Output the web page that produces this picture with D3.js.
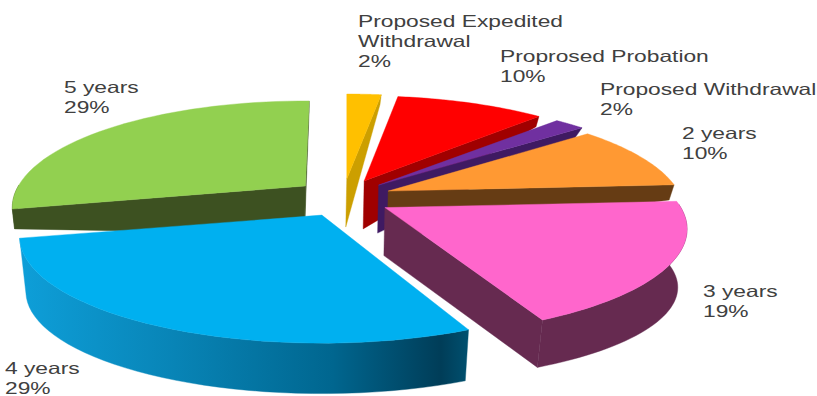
<!DOCTYPE html>
<html>
<head>
<meta charset="utf-8">
<script src="https://cdnjs.cloudflare.com/ajax/libs/d3/7.8.5/d3.min.js"></script>
<style>
  html, body { margin: 0; padding: 0; background: #fff; }
  svg { display: block; }
  text { font-family: "Liberation Sans", Arial, sans-serif; font-size: 16.5px; fill: #404040; }
</style>
</head>
<body>
<svg id="chart" width="817" height="396"></svg>
<script>
// Sanction outcomes, in drawing order clockwise from twelve o'clock
const categories = ["Proposed Expedited Withdrawal", "Proprosed Probation", "Proposed Withdrawal",
                    "2 years", "3 years", "4 years", "5 years"];
const shares = [2, 10, 2, 10, 19, 29, 29];

const topColors  = ["#ffc000", "#ff0000", "#7030a0", "#ff9933", "#ff66cc", "#00b0f0", "#92d050"];
const sideColors = ["#cc9f00", "#a00000", "#3f1a62", "#663c14", "#662a50", "url(#blueSide)", "#3d5121"];

// Label layout: wrapped lines and the anchor of the first line
const labelLines = [["Proposed Expedited", "Withdrawal"], ["Proprosed Probation"], ["Proposed Withdrawal"],
                    ["2 years"], ["3 years"], ["4 years"], ["5 years"]];
const labelAnchors = [[358, 27], [500, 62], [600, 95], [682, 139], [703, 297], [5, 374], [64, 93]];

// Painter's order, back slices first
const paintOrder = [0, 1, 2, 3, 4, 6, 5];

// Perspective model of the pie disc, relative to each slice's apex
const rotation = 0.9 * Math.PI / 180;
const centre = { x: 343, y: 198 }, explode = { x: 48.5, y: 19 };
const topPlane = { ax: 296, by: 102.2, p: 0.2019 };
const backBase = { ax: 285, by: 117, p: 0.283, dy: 16 };
const pinkBase = { ax: 287, by: 90, p: 0.2, dy: 61 };
const blueBase = { ax: 290, by: 98, p: 0.2, dy: 56 };
const basePlanes = [backBase, backBase, backBase, backBase, pinkBase, blueBase, backBase];
const rimWidth = [1, 0.98, 1, 0.98, 1, 1, 0.97];
const leadingGap = [-0.9, 0, 0, 0, 0, 2, 0].map(deg => deg * Math.PI / 180);
const apexDrop = { x: -1, y: 48 };

const rimTop = (a, k) => {
  const X = Math.sin(a), Y = -Math.cos(a), w = 1 - topPlane.p * Y;
  return [k * topPlane.ax * X / w, topPlane.by * Y / w];
};
const rimBase = (a, b) => {
  const X = Math.sin(a), Y = -Math.cos(a);
  return [b.ax * X / (1 - 0.2 * Y), b.dy + b.by * Y / (1 - b.p * Y)];
};

const svg = d3.select("#chart");

const grad = svg.append("defs").append("linearGradient")
  .attr("id", "blueSide").attr("gradientUnits", "userSpaceOnUse")
  .attr("x1", 18).attr("x2", 468).attr("y1", 0).attr("y2", 0);
[[0, "#0e9fd9"], [0.35, "#0884b6"], [0.7, "#00668f"], [0.94, "#003d58"], [1, "#00506f"]]
  .forEach(([o, c]) => grad.append("stop").attr("offset", o).attr("stop-color", c));

const arcs = d3.pie().sort(null).startAngle(rotation).endAngle(rotation + 2 * Math.PI)(shares);
const line = d3.line();

paintOrder.forEach(i => {
  const d = arcs[i];
  const mid = (d.startAngle + d.endAngle) / 2;
  const ox = centre.x + explode.x * Math.sin(mid);
  const oy = centre.y - explode.y * Math.cos(mid);
  const shift = ([x, y]) => [ox + x, oy + y];
  const apexTop = [ox, oy];
  const apexBase = shift([apexDrop.x, apexDrop.y]);
  const from = d.startAngle + leadingGap[i], to = d.endAngle;
  const samples = d3.range(0, 41).map(k => from + (to - from) * k / 40);
  const onTop = a => shift(rimTop(a, rimWidth[i]));
  const onBase = a => shift(rimBase(a, basePlanes[i]));

  const g = svg.append("g").attr("class", "slice");
  const face = (pts, fill) => g.append("path")
    .attr("d", line(pts) + "Z").attr("fill", fill).attr("stroke", fill).attr("stroke-width", 0.4);

  // Outer wall, only along the front half of the rim
  const front = samples.filter(a => Math.cos(a) < 0.05);
  if (front.length > 1) {
    face(front.map(onTop).concat(front.slice().reverse().map(onBase)), sideColors[i]);
  }
  // Cut faces turned towards the viewer
  const cut = a => face([apexTop, onTop(a), onBase(a), apexBase], sideColors[i]);
  if (Math.sin(to) > 0) cut(to);
  if (Math.sin(from) < 0) cut(from);
  // Top surface
  face([apexTop].concat(samples.map(onTop)), topColors[i]);
});

// Category and percentage labels, stretched to the chart's wide aspect
const labels = svg.append("g").attr("class", "labels");
categories.forEach((c, i) => {
  const lines = labelLines[i].concat(shares[i] + "%");
  const [x, y] = labelAnchors[i];
  const t = labels.append("text").attr("transform", `translate(${x},${y}) scale(1.38,1)`);
  lines.forEach((s, k) => t.append("tspan").attr("x", 0).attr("y", k * 20).text(s));
});
</script>
</body>
</html>
